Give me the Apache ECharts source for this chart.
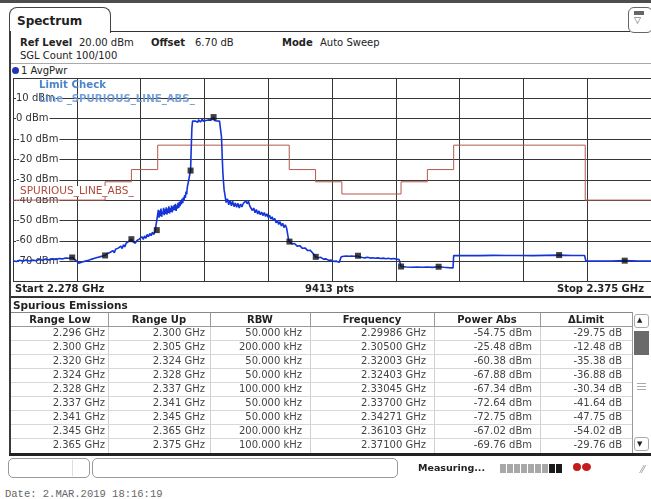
<!DOCTYPE html>
<html><head><meta charset="utf-8">
<script src="https://cdn.jsdelivr.net/npm/echarts@6/dist/echarts.min.js"></script>
<style>
html,body{margin:0;padding:0;background:#fff;}
body{width:651px;height:499px;overflow:hidden;position:relative;font-family:"DejaVu Sans",Verdana,sans-serif;color:#222;}
.t{position:absolute;white-space:nowrap;height:14px;line-height:14px;font-size:10px;}
.b{font-weight:bold;}
.r{position:absolute;}
#plot{position:absolute;left:0;top:60px;width:651px;height:230px;}
</style></head><body>
<div class="r" style="left:0;top:0;width:651px;height:3px;background:#4d4d4d"></div>
<div class="r" style="left:9px;top:7px;width:102px;height:26px;border:1px solid #444;border-bottom:none;border-radius:8px 8px 0 0;box-sizing:border-box"></div>
<div class="t b" style="left:17px;top:14px;font-size:12px;">Spectrum</div>
<div class="r" style="left:110px;top:31px;width:520px;height:1px;background:#333"></div>
<div class="r" style="left:628px;top:7px;width:25px;height:26px;border:1px solid #666;border-radius:6px;box-sizing:border-box"></div>
<div class="r" style="left:634px;top:11px;width:10px;height:4px;background:#666"></div>
<div class="t" style="left:634px;top:13px;font-size:9px;color:#555">▽</div>
<div class="r" style="left:9px;top:31px;width:2px;height:425px;background:#3a3a3a"></div>

<div class="t b" style="left:20px;top:36px;">Ref Level</div>
<div class="t" style="left:79px;top:36px;">20.00 dBm</div>
<div class="t b" style="left:151px;top:36px;">Offset</div>
<div class="t" style="left:195px;top:36px;">6.70 dB</div>
<div class="t b" style="left:282px;top:36px;">Mode</div>
<div class="t" style="left:320px;top:36px;">Auto Sweep</div>
<div class="t" style="left:20px;top:49px;">SGL Count 100/100</div>
<div class="r" style="left:11px;top:63px;width:640px;height:1px;background:#aaa"></div>
<div class="r" style="left:12px;top:67px;width:7px;height:7px;border-radius:50%;background:#2236b0"></div>
<div class="t" style="left:21px;top:64px;">1 AvgPwr</div>

<div id="plot"></div>

<div class="t b" style="left:15px;top:282px;" id="startLbl"></div>
<div class="t b" style="left:305px;top:282px;" id="ptsLbl"></div>
<div class="t b" style="right:7px;top:282px;" id="stopLbl"></div>
<div class="r" style="left:11px;top:296px;width:640px;height:2px;background:#333"></div>
<div class="t b" style="left:13px;top:298px;font-size:10.5px">Spurious Emissions</div>
<div id="tbl"></div>
<div class="r" style="left:9px;top:453px;width:642px;height:3px;background:#222"></div>

<div class="r" style="left:8px;top:458px;width:82px;height:20px;border:1px solid #999;border-radius:5px;box-sizing:border-box"></div>
<div class="r" style="left:72px;top:460px;width:1px;height:16px;background:#ddd"></div>
<div class="r" style="left:92px;top:458px;width:306px;height:20px;border:1px solid #999;border-radius:5px;box-sizing:border-box"></div>
<div class="t b" style="left:418px;top:461px;font-size:9.5px">Measuring...</div>
<div id="prog"></div>
<div class="r" style="left:573px;top:463px;width:8px;height:8px;border-radius:50%;background:#c41c1c"></div>
<div class="r" style="left:582px;top:463px;width:9px;height:8px;border-radius:50%;background:#c41c1c"></div>
<div class="t" style="left:641px;top:463px;font-size:10px;color:#999">⁄⁄</div>
<div class="t" style="left:5px;top:487px;font-family:'Liberation Mono',monospace;font-size:10.5px;color:#666">Date: 2.MAR.2019  18:16:19</div>

<script>
// ---------- sweep settings ----------
const freqStart = 2.278;   // GHz
const freqStop = 2.375;    // GHz
const sweepPoints = 9413;
const refTop = 20;         // dBm
const refBottom = -80;     // dBm

// ---------- measured trace (AvgPwr), GHz / dBm ----------
const segA_start = 2.2780, segA_step = 0.0005;
const segA_vals = [-69.8,-70.2,-69.6,-70.0,-69.4,-69.9,-69.5,-69.8,-69.2,-69.6,-69.0,-69.4,-68.9,-69.2,-68.7,-68.9,-68.5,-68.6,-68.2,-69.5,-71.0,-70.4,-70.0,-69.6];

const segA2_start = 2.2900, segA2_step = 0.0002;
const segA2_vals = [-69.0,-69.8,-68.6,-69.4,-68.2,-69.0,-67.9,-68.7,-67.5,-68.4,-67.2,-67.6,-66.2,-67.1,-65.6,-66.4,-64.8,-65.9,-64.1,-65.0,-63.6,-64.5,-62.6,-63.8,-61.9,-63.0,-61.2,-62.1,-60.3,-61.0,-59.2,-60.4,-59.8,-61.2,-60.0,-60.9,-59.2,-60.1,-58.0,-59.3,-57.6,-58.8,-56.9,-58.0,-56.4,-57.5,-55.8,-56.9,-55.3,-56.0];

const segB_start = 2.2999, segB_step = 0.0001;
const segB_vals = [-54.8,-47.0,-44.8,-48.6,-45.2,-47.9,-44.1,-48.2,-45.6,-46.9,-43.8,-47.4,-44.6,-46.8,-43.5,-47.1,-44.2,-46.3,-43.1,-46.6,-43.9,-45.8,-42.7,-46.0,-43.2,-45.1,-42.4,-44.9,-41.8,-45.3,-42.6,-44.2,-41.3,-43.8,-40.9,-43.0,-40.2,-42.1,-39.4,-41.5,-38.6,-40.3,-37.5,-38.9,-35.8,-37.2,-33.6,-34.4,-30.5,-29.8,-27.0,-25.5,-14.0,-4.5];

const segC_start = 2.3053, segC_step = 0.0001;
const segC_vals = [-1.2,-0.4,-1.5,-0.6,-1.1,-0.2,-1.4,-0.7,-1.8,-0.5,-1.0,-0.3,-1.6,-0.8,-1.2,-0.1,-1.3,-0.6,-1.7,-0.4,-0.9,-1.5,-0.3,-1.1,-0.6,-1.4,-0.2,-1.0,-0.7,-1.6,-0.5,-0.1,0.8,-0.9,-0.4,-1.3,-0.6,-1.1,-0.3,-1.5,-0.8,-1.2,-0.7,-2.1];

const segEdge = [[2.3097,-9.0],[2.3098,-18.0],[2.3099,-26.0],[2.3100,-31.0],[2.3101,-35.0]];

const segD_start = 2.3102, segD_step = 0.0002;
const segD_vals = [-37.0,-41.2,-39.4,-42.3,-40.1,-42.8,-40.6,-43.2,-41.4,-43.5,-41.6,-43.9,-41.9,-43.4,-41.7,-42.6,-40.4,-41.8,-40.6,-42.9,-42.4,-45.1,-43.9,-46.2,-44.6,-46.8,-45.3,-47.2,-45.9,-47.6,-46.1,-48.0,-46.7,-48.6,-47.4,-49.3,-48.2,-50.1,-49.0,-51.2,-49.9,-52.0,-50.6,-52.7,-51.4,-53.5,-52.1,-53.8,-52.9];

const segE = [[2.3199,-59.6],[2.3200,-60.38],[2.3204,-61.6],[2.3208,-61.3],[2.3212,-62.6],[2.3216,-62.4],[2.3220,-63.7],[2.3224,-63.5],[2.3228,-64.8],[2.3232,-64.7],[2.3236,-66.1],[2.3239,-66.9],[2.3240,-67.88],[2.3244,-68.3],[2.3248,-68.1],[2.3252,-69.0],[2.3256,-68.9],[2.3260,-69.6],[2.3264,-69.5],[2.3268,-70.1],[2.3272,-70.0],[2.3276,-70.6],[2.3278,-70.8]];

const segF_start = 2.3279, segF_step = 0.0002;
const segF_vals = [-67.8,-68.4,-67.6,-68.2,-67.5,-68.1,-67.6,-68.3,-67.5,-68.0,-67.6,-67.9,-67.5,-67.34,-67.9,-67.5,-68.2,-67.6,-68.4,-67.7,-68.1,-67.6,-68.5,-67.8,-68.3,-67.7,-68.6,-67.9,-68.4,-67.8,-68.7,-68.0,-68.5,-67.9,-68.8,-68.2,-68.6,-68.0,-68.9,-68.3,-68.7,-68.1,-69.0,-68.5,-69.2];

const segG = [[2.3369,-69.4],[2.3370,-72.64],[2.3378,-72.9],[2.3386,-73.0],[2.3394,-72.85],[2.3402,-73.0],[2.3410,-72.9],[2.3418,-73.05],[2.34271,-72.75],[2.3435,-73.0],[2.3442,-73.2],[2.3449,-73.3],[2.3450,-67.3],[2.3470,-67.2],[2.3490,-67.3],[2.3510,-67.15],[2.3530,-67.25],[2.3550,-67.2],[2.3570,-67.3],[2.3590,-67.15],[2.36103,-67.02],[2.3630,-67.2],[2.3649,-67.25],[2.3651,-69.9],[2.3670,-70.0],[2.3690,-69.9],[2.3710,-69.76],[2.3730,-69.95],[2.3750,-69.9]];

// ---------- limit line SPURIOUS_LINE_ABS_ ----------
const limitStart = [2.278, 2.292, 2.296, 2.300, 2.320, 2.324, 2.328, 2.337, 2.341, 2.345, 2.365];
const limitStop  = [2.292, 2.296, 2.300, 2.320, 2.324, 2.328, 2.337, 2.341, 2.345, 2.365, 2.375];
const limitLevel = [-40, -31, -25, -13, -25, -31, -37, -31, -25, -13, -40];

// ---------- spurious emission table ----------
const rangeLow  = [2.296, 2.300, 2.320, 2.324, 2.328, 2.337, 2.341, 2.345, 2.365];
const rangeUp   = [2.300, 2.305, 2.324, 2.328, 2.337, 2.341, 2.345, 2.365, 2.375];
const rbwKHz    = [50, 200, 50, 50, 100, 50, 50, 200, 100];
const peakFreq  = [2.29986, 2.30500, 2.32003, 2.32403, 2.33045, 2.33700, 2.34271, 2.36103, 2.37100];
const powerAbs  = [-54.75, -25.48, -60.38, -67.88, -67.34, -72.64, -72.75, -67.02, -69.76];
const deltaLim  = [-29.75, -12.48, -35.38, -36.88, -30.34, -41.64, -47.75, -54.02, -29.76];
// peaks of rows scrolled out of the table view
const hiddenPeakFreq = [2.2870, 2.2920, 2.2960, 2.3085];
const hiddenPeakPow  = [-68.2, -67.2, -59.2, 0.8];

// ---------- texts ----------
document.getElementById('startLbl').textContent = 'Start ' + freqStart.toFixed(3) + ' GHz';
document.getElementById('ptsLbl').textContent = sweepPoints + ' pts';
document.getElementById('stopLbl').textContent = 'Stop ' + freqStop.toFixed(3) + ' GHz';

// ---------- table ----------
(function(){
  const tbl = document.getElementById('tbl');
  const seps = [108, 210, 310, 434, 540];
  const rights = [105, 205, 302, 426, 532, 622];
  const heads = ['Range Low','Range Up','RBW','Frequency','Power Abs','ΔLimit'];
  const hc = [60, 159, 260, 372, 487, 586];
  let h = '';
  h += '<div class="r" style="left:11px;top:312px;width:621px;height:1px;background:#888"></div>';
  h += '<div class="r" style="left:11px;top:326px;width:621px;height:1px;background:#999"></div>';
  seps.forEach(x => { h += '<div class="r" style="left:'+x+'px;top:313px;width:1px;height:13px;background:#999"></div>';
                       h += '<div class="r" style="left:'+x+'px;top:327px;width:1px;height:126px;background:#d0d0d0"></div>'; });
  heads.forEach((s,i) => { h += '<div class="t b" style="left:'+(hc[i]-60)+'px;width:120px;text-align:center;top:313px;">'+s+'</div>'; });
  for (let i = 0; i < rangeLow.length; i++) {
    const c = 333 + 14*i;
    const cells = [rangeLow[i].toFixed(3)+' GHz', rangeUp[i].toFixed(3)+' GHz', rbwKHz[i].toFixed(3)+' kHz',
                   peakFreq[i].toFixed(5)+' GHz', powerAbs[i].toFixed(2)+' dBm', deltaLim[i].toFixed(2)+' dB'];
    cells.forEach((s,j) => { h += '<div class="t" style="right:'+(651-rights[j])+'px;top:'+(c-7)+'px;color:#444">'+s+'</div>'; });
    if (i < rangeLow.length-1) h += '<div class="r" style="left:11px;top:'+(c+7)+'px;width:621px;height:1px;background:#d8d8d8"></div>';
  }
  // scrollbar
  h += '<div class="r" style="left:632px;top:312px;width:1px;height:141px;background:#999"></div>';
  h += '<div class="r" style="left:634px;top:314px;width:15px;height:14px;border:1px solid #aaa;border-radius:3px;box-sizing:border-box"></div>';
  h += '<div class="t" style="left:637px;top:313px;font-size:7px;">▲</div>';
  h += '<div class="r" style="left:634px;top:331px;width:15px;height:24px;background:#6a6a6a"></div>';
  h += '<div class="r" style="left:637px;top:383px;width:9px;height:1px;background:#aaa"></div>';
  h += '<div class="r" style="left:637px;top:386px;width:9px;height:1px;background:#aaa"></div>';
  h += '<div class="r" style="left:637px;top:389px;width:9px;height:1px;background:#aaa"></div>';
  h += '<div class="r" style="left:634px;top:437px;width:15px;height:14px;border:1px solid #aaa;border-radius:3px;box-sizing:border-box"></div>';
  h += '<div class="t" style="left:637px;top:437px;font-size:7px;">▼</div>';
  tbl.innerHTML = h;
  let p = '';
  for (let k = 0; k < 9; k++) {
    const dark = k >= 7;
    p += '<div class="r" style="left:'+(500+k*7)+'px;top:464px;width:6px;height:9px;background:'+(dark?'#1a1a1a':'#a8a8a8')+'"></div>';
  }
  document.getElementById('prog').innerHTML = p;
})();

// ---------- chart ----------
function seg(start, step, vals) { return vals.map((v, i) => [+(start + i*step).toFixed(5), v]); }
const trace = [].concat(
  seg(segA_start, segA_step, segA_vals),
  seg(segA2_start, segA2_step, segA2_vals),
  seg(segB_start, segB_step, segB_vals),
  seg(segC_start, segC_step, segC_vals),
  segEdge,
  seg(segD_start, segD_step, segD_vals),
  segE,
  seg(segF_start, segF_step, segF_vals),
  segG
);
const limitData = [];
limitStart.forEach((s, i) => { limitData.push([s, limitLevel[i]], [limitStop[i], limitLevel[i]]); });
const peaks = hiddenPeakFreq.map((f, i) => [f, hiddenPeakPow[i]]).concat(peakFreq.map((f, i) => [f, powerAbs[i]]));

const chart = echarts.init(document.getElementById('plot'));
const gridColor = '#363636';
chart.setOption({
  animation: false,
  grid: { left: 13, top: 18, width: 639.5, height: 203.5, show: false },
  xAxis: [
    { type: 'value', min: freqStart, max: freqStop, show: false },
    { type: 'value', min: 0, max: 10, interval: 1, position: 'top',
      axisLine: { show: false }, axisTick: { show: false }, axisLabel: { show: false },
      splitLine: { show: true, lineStyle: { color: gridColor, width: 1 } } }
  ],
  yAxis: [
    { type: 'value', min: refBottom, max: refTop, interval: 10, position: 'right',
      axisLine: { show: false }, axisTick: { show: false }, axisLabel: { show: false },
      splitLine: { show: true, lineStyle: { color: gridColor, width: 1 } } },
    { type: 'value', min: refBottom, max: refTop, interval: 10, position: 'left', z: 1,
      axisLine: { show: false }, axisTick: { show: false }, splitLine: { show: false },
      axisLabel: { inside: true, margin: 3, showMinLabel: false, showMaxLabel: false,
        formatter: v => v + ' dBm', fontFamily: 'DejaVu Sans', fontSize: 10, color: '#333',
        backgroundColor: '#fff', padding: [0, 1, 0, 0] } }
  ],
  series: [
    { type: 'line', name: 'limit', data: limitData, xAxisIndex: 0, yAxisIndex: 0, symbol: 'none',
      lineStyle: { color: '#b5584c', width: 1 }, z: 2, silent: true },
    { type: 'line', name: 'AvgPwr', data: trace, xAxisIndex: 0, yAxisIndex: 0, symbol: 'none',
      lineStyle: { color: '#1434d8', width: 1.6 }, z: 3, silent: true },
    { type: 'scatter', name: 'peaks', data: peaks, xAxisIndex: 0, yAxisIndex: 0, symbol: 'rect',
      symbolSize: 6, itemStyle: { color: '#111' }, z: 4, silent: true }
  ],
  graphic: [
    { type: 'text', x: 39, y: 25, z: 100, style: { text: 'Limit Check', font: 'bold 10.2px "DejaVu Sans"', fill: '#4a86c8', verticalAlign: 'middle' } },
    { type: 'text', x: 39, y: 39, z: 100, style: { text: 'Line _SPURIOUS_LINE_ABS_', font: 'bold 10.2px "DejaVu Sans"', fill: '#6c98d4', opacity: 0.9, verticalAlign: 'middle' } },
    { type: 'text', x: 18, y: 131.5, z: 100, style: { text: 'SPURIOUS_LINE_ABS_', font: '10.5px "DejaVu Sans"', fill: '#b04a3c', verticalAlign: 'middle', backgroundColor: '#fff', padding: [0, 1, 0, 2] } }
  ]
});
</script>
</body></html>
